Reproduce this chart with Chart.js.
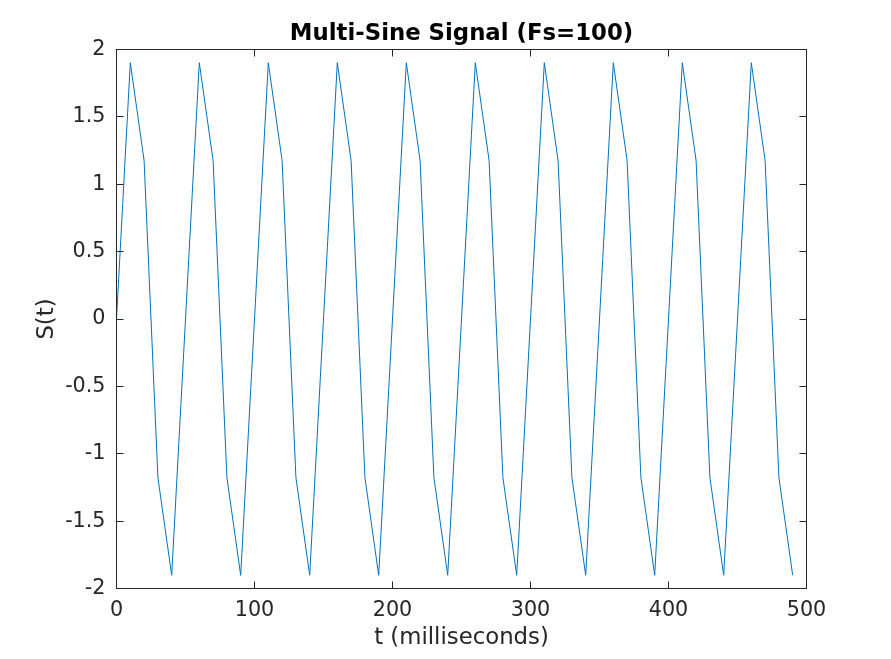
<!DOCTYPE html>
<html>
<head>
<meta charset="utf-8">
<title>Multi-Sine Signal (Fs=100)</title>
<script src="https://cdn.jsdelivr.net/npm/chart.js@4/dist/chart.umd.min.js"></script>
<style>
    html, body { margin: 0; padding: 0; background: #fff; }
    #wrap { width: 891px; height: 659px; }
</style>
</head>
<body>
<div id="wrap"><canvas id="signal-chart" width="891" height="659"></canvas></div>
<script>
// sample times (ms) and the signal
const timeMs = [
    0, 10, 20, 30, 40, 50, 60, 70, 80, 90,
    100, 110, 120, 130, 140, 150, 160, 170, 180, 190,
    200, 210, 220, 230, 240, 250, 260, 270, 280, 290,
    300, 310, 320, 330, 340, 350, 360, 370, 380, 390,
    400, 410, 420, 430, 440, 450, 460, 470, 480, 490
];
const signal = [
    0, 1.902, 1.176, -1.176, -1.902, 0, 1.902, 1.176, -1.176, -1.902,
    0, 1.902, 1.176, -1.176, -1.902, 0, 1.902, 1.176, -1.176, -1.902,
    0, 1.902, 1.176, -1.176, -1.902, 0, 1.902, 1.176, -1.176, -1.902,
    0, 1.902, 1.176, -1.176, -1.902, 0, 1.902, 1.176, -1.176, -1.902,
    0, 1.902, 1.176, -1.176, -1.902, 0, 1.902, 1.176, -1.176, -1.902
];
const xTicks = [0, 100, 200, 300, 400, 500];
const yTicks = [-2, -1.5, -1, -0.5, 0, 0.5, 1, 1.5, 2];

const AXIS_COLOR = "#262626";
const TICK_FONT = { family: "'DejaVu Sans', sans-serif", size: 20.7 };
const LABEL_FONT = { family: "'DejaVu Sans', sans-serif", size: 22.8, lineHeight: 1 };
const TICK_LEN = 7;

// box round the plot area with inward ticks on all four sides, plus the title
const matlabBox = {
    id: "matlabBox",
    afterDraw(chart) {
        const { ctx, chartArea: area, scales: { x, y } } = chart;
        const l = area.left, r = area.right, t = area.top, b = area.bottom;
        ctx.save();
        ctx.strokeStyle = AXIS_COLOR;
        ctx.lineWidth = 1;
        ctx.beginPath();
        ctx.rect(l, t, r - l, b - t);
        x.ticks.forEach(tick => {
            const px = Math.round(x.getPixelForValue(tick.value) - 0.5) + 0.5;
            ctx.moveTo(px, b); ctx.lineTo(px, b - TICK_LEN);
            ctx.moveTo(px, t); ctx.lineTo(px, t + TICK_LEN);
        });
        y.ticks.forEach(tick => {
            const py = Math.round(y.getPixelForValue(tick.value) - 0.5) + 0.5;
            ctx.moveTo(l, py); ctx.lineTo(l + TICK_LEN, py);
            ctx.moveTo(r, py); ctx.lineTo(r - TICK_LEN, py);
        });
        ctx.stroke();

        ctx.fillStyle = "#000";
        ctx.font = "bold 22.8px 'DejaVu Sans', sans-serif";
        ctx.textAlign = "center";
        ctx.textBaseline = "alphabetic";
        ctx.fillText("Multi-Sine Signal (Fs=100)", (l + r) / 2, 40);
        ctx.restore();
    }
};

new Chart(document.getElementById("signal-chart"), {
    type: "line",
    data: {
        datasets: [{
            label: "S(t)",
            data: timeMs.map((t, i) => ({ x: t, y: signal[i] })),
            borderColor: "#0072BD",
            borderWidth: 1,
            pointRadius: 0,
            tension: 0,
            fill: false
        }]
    },
    options: {
        responsive: false,
        animation: false,
        devicePixelRatio: 1,
        layout: { padding: { left: 0, top: 49.5, right: 84.5, bottom: 0 } },
        plugins: { legend: { display: false }, tooltip: { enabled: false }, title: { display: false } },
        scales: {
            x: {
                type: "linear",
                min: 0,
                max: 500,
                afterFit: scale => { scale.height = 70.5; },
                afterBuildTicks: scale => { scale.ticks = xTicks.map(v => ({ value: v })); },
                grid: { display: true, drawOnChartArea: false, drawTicks: false, color: AXIS_COLOR },
                border: { display: true, color: AXIS_COLOR, width: 1 },
                ticks: { color: AXIS_COLOR, font: TICK_FONT, padding: 10, maxRotation: 0, callback: v => String(v) },
                title: { display: true, text: "t (milliseconds)", color: AXIS_COLOR, font: LABEL_FONT, padding: { top: 0, bottom: 9.6 } }
            },
            y: {
                type: "linear",
                min: -2,
                max: 2,
                afterFit: scale => { scale.width = 116.5; },
                afterBuildTicks: scale => { scale.ticks = yTicks.map(v => ({ value: v })); },
                grid: { display: true, drawOnChartArea: false, drawTicks: false, color: AXIS_COLOR },
                border: { display: true, color: AXIS_COLOR, width: 1 },
                ticks: { color: AXIS_COLOR, font: TICK_FONT, padding: 11, callback: v => String(v) },
                title: { display: true, text: "S(t)", color: AXIS_COLOR, font: LABEL_FONT, padding: { top: 35.6, bottom: 0 } }
            }
        }
    },
    plugins: [matlabBox]
});
</script>
</body>
</html>
